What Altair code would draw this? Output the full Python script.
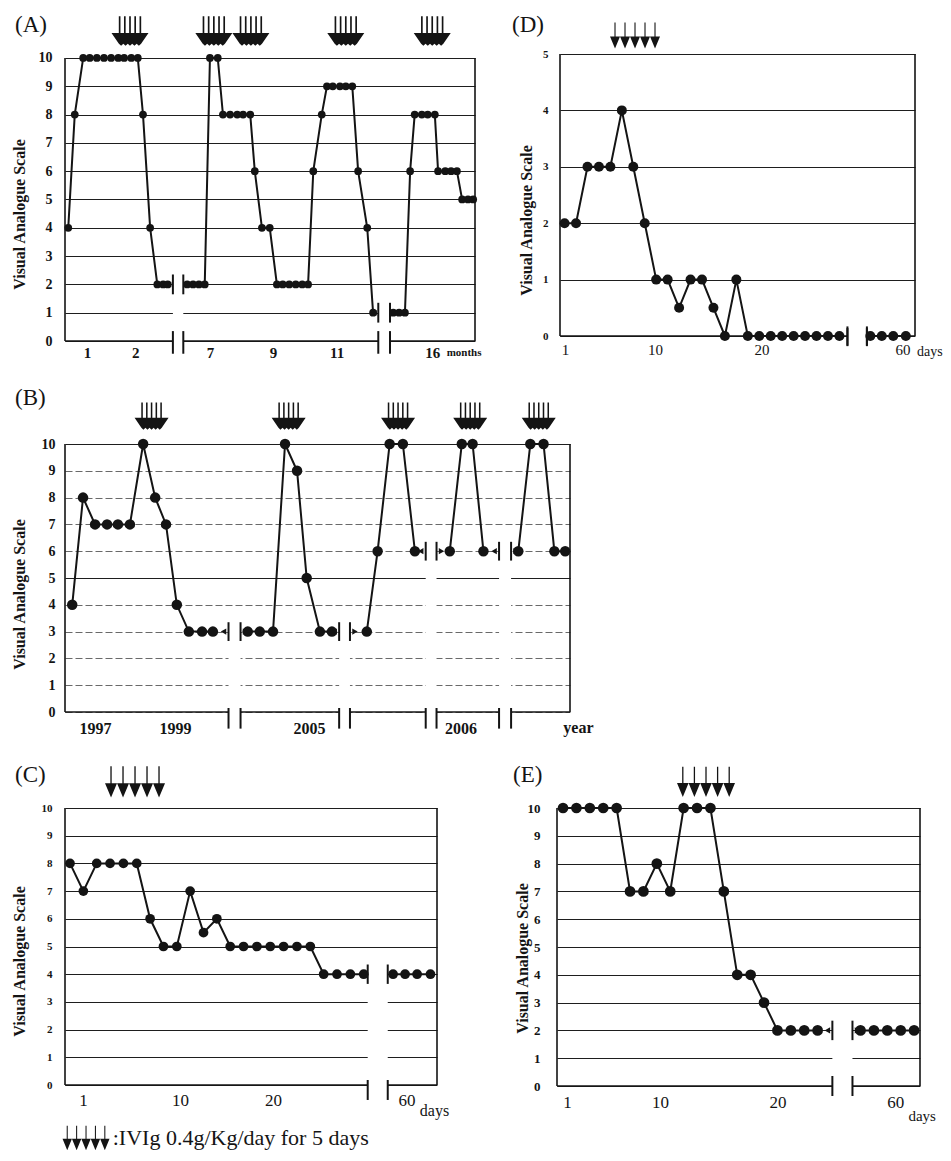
import altair as alt
import pandas as pd

FONT = "Liberation Serif"
INK = "#141414"

# ---------------- data ----------------
# (A)  x in visit slots along a broken "months" axis
a_x = [0.5, 1.5, 2.8, 3.8, 4.9, 6.0, 7.1, 8.2, 9.1, 10.2, 11.2, 12.0, 13.1, 14.2, 15.1, 15.8,
       18.8, 19.7, 20.6, 21.5, 22.3, 23.5, 24.3, 25.4, 26.5, 27.4, 28.5, 29.2, 30.3, 31.5,
       32.6, 33.5, 34.5, 35.5, 36.5, 37.4, 38.2, 39.5, 40.3, 41.2, 42.3, 43.2, 44.2, 45.1,
       46.5, 47.4,
       50.5, 51.4, 52.3, 53.1, 53.8, 54.9, 55.8, 56.9, 57.4, 58.5, 59.4, 60.3, 61.1, 62.0, 62.8]
a_y = [4, 8, 10, 10, 10, 10, 10, 10, 10, 10, 10, 8, 4, 2, 2, 2,
       2, 2, 2, 2, 10, 10, 8, 8, 8, 8, 8, 6, 4, 4,
       2, 2, 2, 2, 2, 2, 6, 8, 9, 9, 9, 9, 9, 6,
       4, 1,
       1, 1, 1, 6, 8, 8, 8, 8, 6, 6, 6, 6, 5, 5, 5]
a_break_left = [16.6, 48.2]
a_break_right = [18.2, 50.0]
a_break_level = [2, 1]
a_tick_pos = [3.4, 10.8, 22.3, 32.0, 41.8, 56.5]
a_tick_text = ["1", "2", "7", "9", "11", "16"]
a_arrows = [10.0, 22.9, 28.6, 43.2, 56.5]

# (B)  years
b_x = [0.6, 1.5, 2.5, 3.5, 4.4, 5.4, 6.5, 7.5, 8.4, 9.3, 10.3, 11.4, 12.3,
       15.2, 16.2, 17.3, 18.3, 19.3, 20.1, 21.2, 22.2,
       25.1, 26.0, 27.0, 28.1, 29.1,
       32.0, 33.0, 33.9, 34.8,
       37.7, 38.7, 39.8, 40.7, 41.6]
b_y = [4, 8, 7, 7, 7, 7, 10, 8, 7, 4, 3, 3, 3,
       3, 3, 3, 10, 9, 5, 3, 3,
       3, 6, 10, 10, 6,
       6, 10, 10, 6,
       6, 10, 10, 6, 6]
b_break_left = [13.6, 22.8, 30.0, 36.1]
b_break_right = [14.6, 23.7, 30.9, 37.1]
b_break_level = [3, 3, 6, 6]
b_tick_pos = [2.5, 9.15, 20.3, 32.9]
b_tick_text = ["1997", "1999", "2005", "2006"]
b_arrows = [7.2, 18.6, 27.7, 33.7, 39.4]

# (C)  days
c_x = list(range(1, 24)) + [25.2, 26.1, 27.0, 28.0]
c_y = [8, 7, 8, 8, 8, 8, 6, 5, 5, 7, 5.5, 6, 5, 5, 5, 5, 5, 5, 5, 4, 4, 4, 4,
       4, 4, 4, 4]
c_break_left = [23.3]
c_break_right = [24.8]
c_break_level = [4]
c_tick_pos = [1.97, 9.24, 16.2, 26.2]
c_tick_text = ["1", "10", "20", "60"]
c_arrows = [5.87]

# (D)  days
d_x = list(range(1, 26)) + [27.7, 28.7, 29.7, 30.8]
d_y = [2, 2, 3, 3, 3, 4, 3, 2, 1, 1, 0.5, 1, 1, 0.5, 0, 1, 0, 0, 0, 0, 0, 0, 0, 0, 0,
       0, 0, 0, 0]
d_break_left = [25.7]
d_break_right = [27.4]
d_break_level = [0]
d_tick_pos = [1.04, 8.9, 18.2, 30.5]
d_tick_text = ["1", "10", "20", "60"]
d_arrows = [7.15]

# (E)  days
e_x = list(range(1, 21)) + [23.2, 24.2, 25.2, 26.2, 27.2]
e_y = [10, 10, 10, 10, 10, 7, 7, 8, 7, 10, 10, 10, 7, 4, 4, 3, 2, 2, 2, 2,
       2, 2, 2, 2, 2]
e_break_left = [21.1]
e_break_right = [22.6]
e_break_level = [2]
e_tick_pos = [1.3, 8.24, 17.0, 25.8]
e_tick_text = ["1", "10", "20", "60"]
e_arrows = [11.67]

legend_text = ":IVIg 0.4g/Kg/day for 5 days"
y_title = "Visual Analogue Scale"


# ---------------- glyphs (style) ----------------
def thin_arrows_path():
    parts = []
    for cx in (-0.8, -0.4, 0.0, 0.4, 0.8):
        parts.append(f"M{cx-0.2:.3f},0.04L{cx+0.2:.3f},0.04L{cx:.3f},0.52Z")
        parts.append(f"M{cx-0.022:.3f},-0.52L{cx+0.022:.3f},-0.52L{cx+0.022:.3f},0.06L{cx-0.022:.3f},0.06Z")
    return "".join(parts)


def thick_arrows_path():
    parts = []
    for cx in (-0.56, -0.28, 0.0, 0.28, 0.56):
        parts.append(f"M{cx-0.045:.3f},-0.8L{cx+0.045:.3f},-0.8L{cx+0.045:.3f},0.14L{cx-0.045:.3f},0.14Z")
    parts.append("M-1,0.1L1,0.1L0.6,0.68L0.48,0.8L0.36,0.68L0.24,0.8L0.12,0.68L0,0.8"
                 "L-0.12,0.68L-0.24,0.8L-0.36,0.68L-0.48,0.8L-0.6,0.68Z")
    return "".join(parts)


THIN = thin_arrows_path()
THICK = thick_arrows_path()


def label_expr(pos, txt):
    e = "''"
    for p, t in reversed(list(zip(pos, txt))):
        e = f"datum.value == {p} ? '{t}' : ({e})"
    return e


def panel(label, xs, ys, bl, br, blev, xdom, ymax, width, height,
          tick_pos, tick_text, arrows, st, unit=None, legend=None):
    ytop = st.get("ytop", ymax)
    xsc = alt.Scale(domain=xdom, nice=False, zero=False)
    ysc = alt.Scale(domain=[0, ytop], nice=False, zero=False)
    xaxis = alt.Axis(values=tick_pos, labelExpr=label_expr(tick_pos, tick_text),
                     grid=False, domain=False, ticks=False, title=None,
                     labelFont=FONT, labelFontSize=st["xfs"], labelFontWeight=st["xfw"],
                     labelColor=INK, labelPadding=st["xpad"], labelFlush=False,
                     labelOverlap=False, labelBound=False)
    yaxis = alt.Axis(values=list(range(0, ymax + 1)), grid=True,
                     gridColor=st["gridColor"], gridWidth=st["gridWidth"],
                     gridDash=st.get("gridDash", []),
                     domain=False, ticks=False,
                     labelFont=FONT, labelFontSize=st["yfs"], labelFontWeight="bold",
                     labelColor=INK, labelPadding=st["ypad"],
                     minExtent=st["ext"], maxExtent=st["ext"],
                     title=y_title, titleFont=FONT, titleFontSize=16, titleFontWeight="bold",
                     titleColor=INK, titlePadding=7, titleY=st["titleY"])

    def X(f):
        return alt.X(f, type="quantitative", scale=xsc, axis=xaxis)

    def Y(f):
        return alt.Y(f, type="quantitative", scale=ysc, axis=yaxis)

    pts = pd.DataFrame({"x": xs, "y": ys})
    pts["seg"] = [sum(1 for b in bl if v > b) for v in xs]

    gaps = pd.DataFrame({"xl": bl, "xr": br, "lev": blev})
    gaps["lo"] = -0.3
    gaps["hi"] = gaps["lev"] + 0.45

    bars = pd.DataFrame({"xb": bl + br, "lev": blev + blev})
    bars["b0"] = bars["lev"] - st["bar"]
    bars["b1"] = bars["lev"] + st["bar"]
    bars["a0"] = -st["abar_lo"]
    bars["a1"] = st["abar_hi"]

    segs = pd.DataFrame({"s0": [xdom[0]] + br, "s1": bl + [xdom[1]]})
    segs["y0"] = 0

    frame = pd.DataFrame({"xf": [xdom[0], xdom[1]], "y0": [0, 0], "y1": [ymax, ymax]})

    tri_l = pd.DataFrame({"xb": bl, "lev": blev})
    tri_r = pd.DataFrame({"xb": br, "lev": blev})

    arr = pd.DataFrame({"ax": arrows})
    arr["ay"] = st["arrow_y"]

    layers = []
    layers.append(alt.Chart(gaps).mark_rect(color="white", clip=False).encode(
        x=X("xl"), x2="xr", y=Y("lo"), y2="hi"))
    layers.append(alt.Chart(segs).mark_rule(color=INK, strokeWidth=1.6).encode(
        x=X("s0"), x2="s1", y=Y("y0")))
    layers.append(alt.Chart(frame).mark_rule(color=INK, strokeWidth=1.6).encode(
        x=X("xf"), y=Y("y0"), y2="y1"))
    layers.append(alt.Chart(bars).mark_rule(color=INK, strokeWidth=2).encode(
        x=X("xb"), y=Y("b0"), y2="b1"))
    layers.append(alt.Chart(bars).mark_rule(color=INK, strokeWidth=2, clip=False).encode(
        x=X("xb"), y=Y("a0"), y2="a1"))
    if st.get("tri", True):
        layers.append(alt.Chart(tri_l).mark_point(
            shape="triangle-left", filled=True, color=INK, opacity=1, size=st["tri_size"],
            xOffset=-st["tri_off"]).encode(x=X("xb"), y=Y("lev")))
        layers.append(alt.Chart(tri_r).mark_point(
            shape="triangle-right", filled=True, color=INK, opacity=1, size=st["tri_size"],
            xOffset=st["tri_off"]).encode(x=X("xb"), y=Y("lev")))

    layers.append(alt.Chart(pts).mark_line(color=INK, strokeWidth=2).encode(
        x=X("x"), y=Y("y"), detail="seg:N"))
    layers.append(alt.Chart(pts).mark_circle(size=st["pt"], color=INK, opacity=1).encode(
        x=X("x"), y=Y("y")))

    layers.append(alt.Chart(arr).mark_point(
        shape=THICK if st["thick"] else THIN, filled=True, color=INK, opacity=1,
        strokeWidth=0, size=st["arrow_size"], clip=False).encode(x=X("ax"), y=Y("ay")))

    # panel letter
    lx, ly = st["label_at"]
    ldf = pd.DataFrame({"lx": [lx], "ly": [ly], "t": [label]})
    layers.append(alt.Chart(ldf).mark_text(
        font=FONT, fontSize=23, color=INK, align="left", baseline="middle",
        clip=False).encode(x=X("lx"), y=Y("ly"), text="t:N"))

    if unit is not None:
        ut, ux, ufs, udy, ufw = unit
        udf = pd.DataFrame({"ux": [ux], "uy": [0], "t": [ut]})
        layers.append(alt.Chart(udf).mark_text(
            font=FONT, fontSize=ufs, fontWeight=ufw, color=INK, dy=udy,
            align="center", baseline="middle", clip=False).encode(
            x=X("ux"), y=Y("uy"), text="t:N"))

    if legend is not None:
        gx, gy, tx = legend
        gdf = pd.DataFrame({"gx": [gx], "gy": [gy]})
        tdf = pd.DataFrame({"tx": [tx], "ty": [gy], "t": [legend_text]})
        layers.append(alt.Chart(gdf).mark_point(
            shape=THIN, filled=True, color=INK, opacity=1, strokeWidth=0, size=2209,
            clip=False).encode(x=X("gx"), y=Y("gy")))
        layers.append(alt.Chart(tdf).mark_text(
            font=FONT, fontSize=22, color=INK, align="left", baseline="middle",
            clip=False).encode(x=X("tx"), y=Y("ty"), text="t:N"))

    return alt.layer(*layers).properties(width=width, height=height)


base_grid = dict(gridColor="#1e1e1e", gridWidth=1.2)

A = panel("(A)", a_x, a_y, a_break_left, a_break_right, a_break_level, [0, 63.08], 10,
          410, 287, a_tick_pos, a_tick_text, a_arrows,
          dict(base_grid, ytop=10.14, bar=0.35, abar_lo=0.45, abar_hi=0.35, tri_size=30,
               tri_off=4, xfs=15, xfw="bold", xpad=4, yfs=14, ypad=13, ext=31, titleY=160,
               pt=60, thick=True, arrow_y=10.95, arrow_size=1369, label_at=(-7.69, 11.17)),
          unit=("months", 61.4, 11, 12, "bold"))

D = panel("(D)", d_x, d_y, d_break_left, d_break_right, d_break_level, [0.6, 31.6], 5,
          355, 282, d_tick_pos, d_tick_text, d_arrows,
          dict(base_grid, bar=0.17, abar_lo=0.18, abar_hi=0.14, tri=False, tri_size=30,
               tri_off=4, xfs=15, xfw="normal", xpad=6, yfs=11, ypad=12, ext=19, titleY=166,
               pt=100, thick=False, arrow_y=5.33, arrow_size=2500, label_at=(-3.59, 5.51)),
          unit=("days", 32.9, 14, 16, "normal"))

B = panel("(B)", b_x, b_y, b_break_left, b_break_right, b_break_level, [0, 42.0], 10,
          505, 268, b_tick_pos, b_tick_text, b_arrows,
          dict(bar=0.35, abar_lo=0.62, abar_hi=0.15, tri_size=40, tri_off=5,
               gridColor={"condition": {"test": "datum.value == 5 || datum.value == 10",
                                        "value": "#1e1e1e"}, "value": "#6a6a6a"},
               gridDash={"condition": {"test": "datum.value == 5 || datum.value == 10",
                                       "value": []}, "value": [7, 3]},
               gridWidth=1.2,
               xfs=16, xfw="bold", xpad=8, yfs=14, ypad=10, ext=31, titleY=150, pt=110,
               thick=True, arrow_y=11.04, arrow_size=1156, label_at=(-4.16, 11.72)),
          unit=("year", 42.7, 16, 16, "bold"))

C = panel("(C)", c_x, c_y, c_break_left, c_break_right, c_break_level, [0.625, 28.49], 10,
          372, 277, c_tick_pos, c_tick_text, c_arrows,
          dict(base_grid, bar=0.35, abar_lo=0.54, abar_hi=0.18, tri_size=35, tri_off=4,
               xfs=17, xfw="normal", xpad=7, yfs=11, ypad=13, ext=31, titleY=153, pt=95,
               thick=False, arrow_y=10.94, arrow_size=3600, label_at=(-3.12, 11.19)),
          unit=("days", 28.3, 16, 26, "normal"),
          legend=(2.2, -1.91, 4.2))

E = panel("(E)", e_x, e_y, e_break_left, e_break_right, e_break_level, [0.55, 27.64], 10,
          363, 278, e_tick_pos, e_tick_text, e_arrows,
          dict(base_grid, bar=0.35, abar_lo=0.36, abar_hi=0.36, tri_size=40, tri_off=5,
               xfs=17, xfw="normal", xpad=8, yfs=13, ypad=17, ext=20, titleY=150, pt=115,
               thick=False, arrow_y=10.94, arrow_size=3364, label_at=(-2.73, 11.19)),
          unit=("days", 27.8, 15, 30, "normal"))

row1 = alt.hconcat(A, D, spacing=30)
row3 = alt.hconcat(C, E, spacing=63)
top = alt.vconcat(row1, B, spacing=26)

chart = alt.vconcat(top, row3, spacing=27).properties(
    padding={"left": 3, "right": 0, "top": 5, "bottom": 0}, background="white"
).configure_view(strokeWidth=0)

chart.save("out.html", embed_options={"renderer": "svg", "actions": False})
